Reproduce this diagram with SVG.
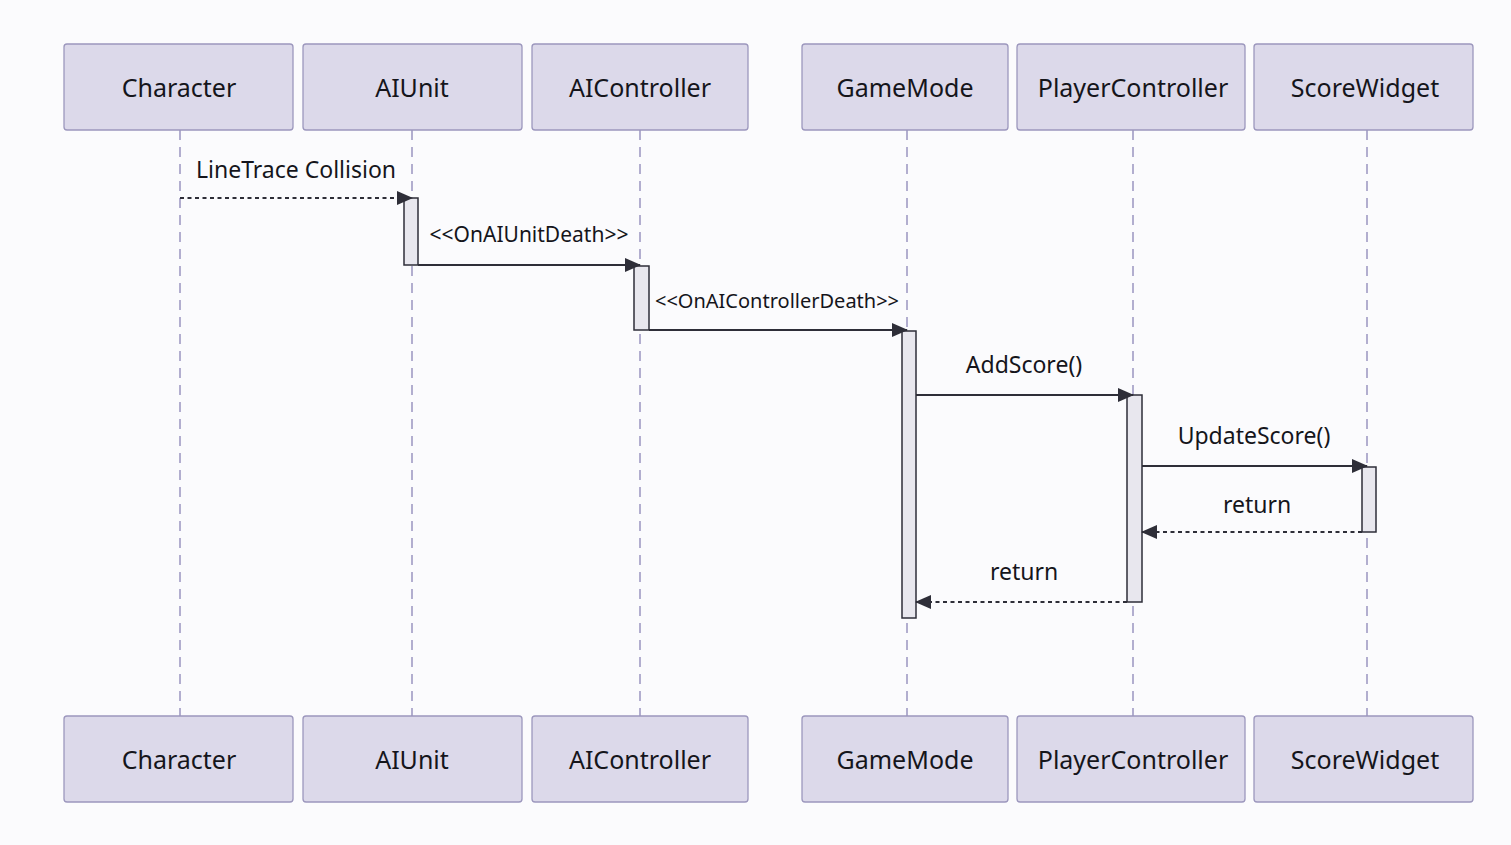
<svg xmlns="http://www.w3.org/2000/svg" width="1511" height="845" viewBox="0 0 1511 845">
<defs>
<style>
.box{fill:#dcd9ea;stroke:#9c97bd;stroke-width:1.3}
.lt{font-family:"Noto Sans",sans-serif;font-size:25px;fill:#15151b;text-anchor:middle;dominant-baseline:central}
.life{stroke:#a09bc4;stroke-width:1.6;stroke-dasharray:10,7;fill:none}
.act{fill:#e8e7ee;stroke:#2e2e38;stroke-width:1.5}
.msg{stroke:#2e2e38;stroke-width:2;fill:none}
.dash{stroke-dasharray:4,3.5}
.ml{font-family:"Noto Sans",sans-serif;font-size:23px;fill:#15151b;text-anchor:middle}
.ms{font-size:21px}
.mxs{font-size:20px}
</style>
<marker id="ah" viewBox="0 0 16 14" refX="15" refY="7" markerWidth="16" markerHeight="14" markerUnits="userSpaceOnUse" orient="auto"><path d="M0,0 L16,7 L0,14 z" fill="#2e2e38"/></marker>
</defs>
<rect width="1511" height="845" fill="#fbfbfd"/>
<g id="lifelines">
<line class="life" x1="180" y1="130" x2="180" y2="716"/>
<line class="life" x1="412" y1="130" x2="412" y2="716"/>
<line class="life" x1="640" y1="130" x2="640" y2="716"/>
<line class="life" x1="907" y1="130" x2="907" y2="716"/>
<line class="life" x1="1133" y1="130" x2="1133" y2="716"/>
<line class="life" x1="1367" y1="130" x2="1367" y2="716"/>
</g>
<g id="character">
<rect class="box" x="64" y="44" width="229" height="86" rx="3"/>
<text class="lt" x="179" y="87">Character</text>
<rect class="box" x="64" y="716" width="229" height="86" rx="3"/>
<text class="lt" x="179" y="759">Character</text>
</g>
<g id="aiunit">
<rect class="box" x="303" y="44" width="219" height="86" rx="3"/>
<text class="lt" x="412" y="87">AIUnit</text>
<rect class="box" x="303" y="716" width="219" height="86" rx="3"/>
<text class="lt" x="412" y="759">AIUnit</text>
</g>
<g id="aicontroller">
<rect class="box" x="532" y="44" width="216" height="86" rx="3"/>
<text class="lt" x="640" y="87">AIController</text>
<rect class="box" x="532" y="716" width="216" height="86" rx="3"/>
<text class="lt" x="640" y="759">AIController</text>
</g>
<g id="gamemode">
<rect class="box" x="802" y="44" width="206" height="86" rx="3"/>
<text class="lt" x="905" y="87">GameMode</text>
<rect class="box" x="802" y="716" width="206" height="86" rx="3"/>
<text class="lt" x="905" y="759">GameMode</text>
</g>
<g id="playercontroller">
<rect class="box" x="1017" y="44" width="228" height="86" rx="3"/>
<text class="lt" x="1133" y="87">PlayerController</text>
<rect class="box" x="1017" y="716" width="228" height="86" rx="3"/>
<text class="lt" x="1133" y="759">PlayerController</text>
</g>
<g id="scorewidget">
<rect class="box" x="1254" y="44" width="219" height="86" rx="3"/>
<text class="lt" x="1365" y="87">ScoreWidget</text>
<rect class="box" x="1254" y="716" width="219" height="86" rx="3"/>
<text class="lt" x="1365" y="759">ScoreWidget</text>
</g>
<g id="activations">
<rect class="act" x="404" y="198" width="14" height="67"/>
<rect class="act" x="634" y="266" width="15" height="64"/>
<rect class="act" x="902" y="331" width="14" height="287"/>
<rect class="act" x="1127" y="395" width="15" height="207"/>
<rect class="act" x="1362" y="467" width="14" height="65"/>
</g>
<g id="connectors">
<line class="msg dash" x1="180" y1="198" x2="412" y2="198" marker-end="url(#ah)"/>
<text class="ml" x="296" y="178">LineTrace Collision</text>
<line class="msg" x1="418" y1="265" x2="640" y2="265" marker-end="url(#ah)"/>
<text class="ml ms" x="529" y="242">&lt;&lt;OnAIUnitDeath&gt;&gt;</text>
<line class="msg" x1="649" y1="330" x2="907" y2="330" marker-end="url(#ah)"/>
<text class="ml mxs" x="777" y="308">&lt;&lt;OnAIControllerDeath&gt;&gt;</text>
<line class="msg" x1="916" y1="395" x2="1133" y2="395" marker-end="url(#ah)"/>
<text class="ml" x="1024" y="373">AddScore()</text>
<line class="msg" x1="1142" y1="466" x2="1367" y2="466" marker-end="url(#ah)"/>
<text class="ml" x="1254" y="444">UpdateScore()</text>
<line class="msg dash" x1="1362" y1="532" x2="1142" y2="532" marker-end="url(#ah)"/>
<text class="ml" x="1257" y="513">return</text>
<line class="msg dash" x1="1127" y1="602" x2="916" y2="602" marker-end="url(#ah)"/>
<text class="ml" x="1024" y="580">return</text>
</g>
</svg>
